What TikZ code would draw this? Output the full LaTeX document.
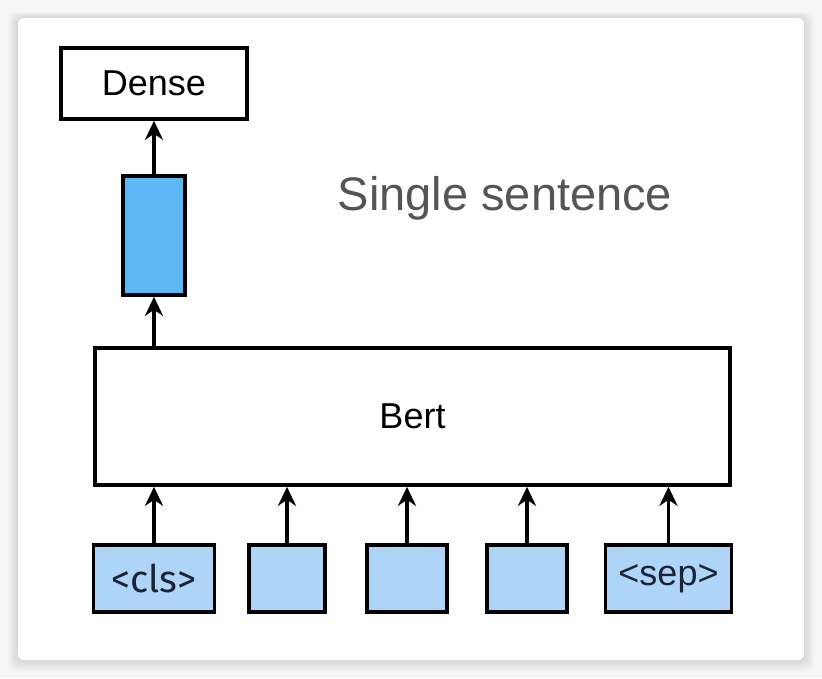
\documentclass[tikz,border=0pt]{standalone}
\usepackage{fontspec}
\setmainfont{Liberation Sans}
\newfontfamily\tokfont{Fira Sans}
\usetikzlibrary{arrows.meta}
\definecolor{bgc}{HTML}{F6F6F6}
\definecolor{darkblue}{HTML}{5DB9F5}
\definecolor{lightblue}{HTML}{AED5F7}
\definecolor{tokc}{HTML}{1B2436}
\definecolor{titlec}{HTML}{555555}
\tikzset{
  box/.style={draw=black, line width=3.6pt, fill=white, inner sep=0pt, font=\fontsize{36}{40}\selectfont},
  tokbox/.style={box, fill=lightblue, minimum height=67pt, text=tokc},
  conn/.style={line width=3.6pt, -{Stealth[length=19pt,width=18pt,inset=6pt]}},
}
\begin{document}
\begin{tikzpicture}[x=1pt,y=-1pt]
\useasboundingbox (0,0) rectangle (822,678);
\fill[bgc] (0,0) rectangle (822,678);
% shadow
\foreach \i in {1,...,10}{
  \fill[black, opacity=0.012, rounded corners=8pt] (18-\i,18-\i*0.6) rectangle (804+\i,660+\i*1.2);
}
\fill[white, rounded corners=6pt] (18,18) rectangle (804,660);
% nodes
\node[box, minimum width=186pt, minimum height=71pt] (dense) at (154,83.5) {Dense};
\node[box, fill=darkblue, minimum width=62pt, minimum height=119pt] (vec) at (154,235.5) {};
\node[box, minimum width=635pt, minimum height=137pt] (bert) at (412.5,416.5) {Bert};
\node[font=\fontsize{47}{52}\selectfont, text=titlec] (title) at (505,198) {Single sentence};
\node[tokbox, minimum width=121pt, font=\tokfont\fontsize{38}{40}\selectfont] (cls) at (154,578.5) {<cls>};
\node[tokbox, minimum width=76pt] (t2) at (287,578.5) {};
\node[tokbox, minimum width=80pt] (t3) at (407,578.5) {};
\node[tokbox, minimum width=80pt] (t4) at (527,578.5) {};
\node[tokbox, minimum width=126pt] (sep) at (668.5,578.5) {<sep>};
% connectors
\draw[conn] (vec.north) -- (dense.south);
\draw[conn] (vec.south |- bert.north) -- (vec.south);
\foreach \t in {cls,t2,t3,t4,sep}{
  \draw[conn] (\t.north) -- (\t.north |- bert.south);
}
\end{tikzpicture}
\end{document}
